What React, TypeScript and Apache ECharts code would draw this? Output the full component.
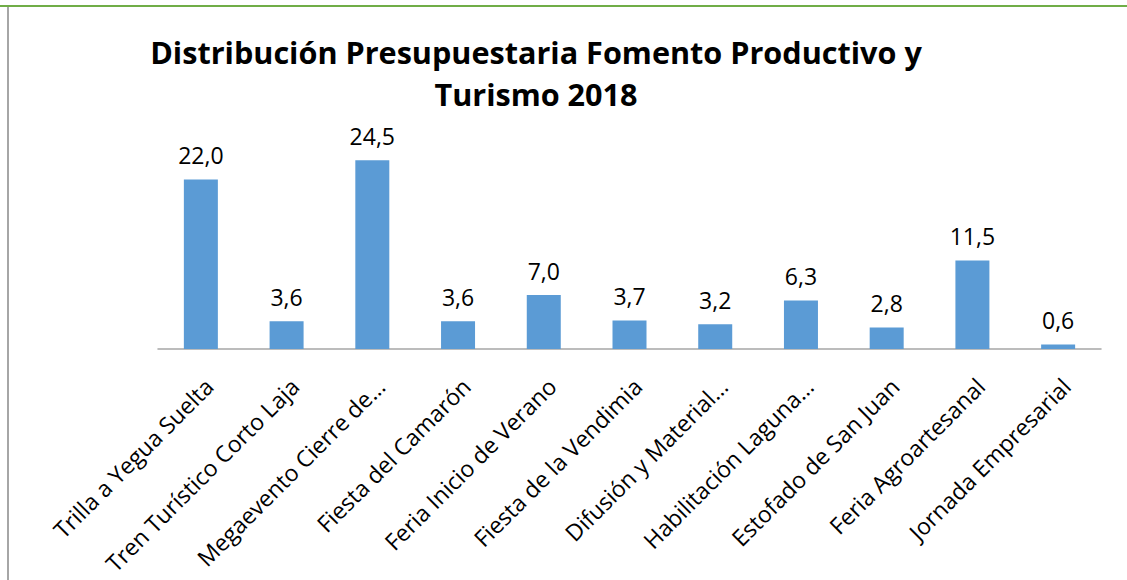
import React, { useEffect, useRef } from "react";
import * as echarts from "echarts";

const categories = [
  "Trilla a Yegua Suelta",
  "Tren Turístico Corto Laja",
  "Megaevento Cierre de…",
  "Fiesta del Camarón",
  "Feria Inicio de Verano",
  "Fiesta de la Vendimia",
  "Difusión y Material…",
  "Habilitación Laguna…",
  "Estofado de San Juan",
  "Feria Agroartesanal",
  "Jornada Empresarial",
];
const values = [22.0, 3.6, 24.5, 3.6, 7.0, 3.7, 3.2, 6.3, 2.8, 11.5, 0.6];
const titleText = "Distribución Presupuestaria Fomento Productivo y\nTurismo 2018";

const FONT = "'Open Sans', 'Noto Sans', sans-serif";

export default function App() {
  const ref = useRef<HTMLDivElement>(null);
  useEffect(() => {
    if (!ref.current) return;
    const chart = echarts.init(ref.current, null, { renderer: "svg" });
    chart.setOption({
      animation: false,
      backgroundColor: "#ffffff",
      title: {
        text: titleText,
        left: 531,
        top: 26,
        textAlign: "center",
        textStyle: {
          fontFamily: FONT,
          fontWeight: "bold",
          fontSize: 30.6,
          lineHeight: 42,
          color: "#000000",
        },
      },
      graphic: [
        { type: "rect", shape: { x: 0, y: 5, width: 1127, height: 2 }, style: { fill: "#70ad47" } },
        { type: "rect", shape: { x: 7, y: 7, width: 2, height: 573 }, style: { fill: "#a6a6a6" } },
      ],
      grid: {
        left: 158,
        right: 26,
        top: 118,
        bottom: 231,
        containLabel: false,
        outerBoundsMode: "none",
      },
      xAxis: {
        type: "category",
        data: categories,
        axisLine: { lineStyle: { color: "#a6a6a6", width: 1.5 } },
        axisTick: { show: false },
        axisLabel: {
          interval: 0,
          rotate: 45,
          margin: 25,
          verticalAlign: "top",
          fontFamily: FONT,
          fontSize: 23,
          color: "#000000",
        },
      },
      yAxis: {
        type: "value",
        min: 0,
        max: 30,
        show: false,
        splitLine: { show: false },
      },
      series: [
        {
          type: "bar",
          data: values,
          barWidth: 34,
          itemStyle: { color: "#5b9bd5" },
          label: {
            show: true,
            position: "top",
            distance: 13,
            fontFamily: FONT,
            fontSize: 23,
            color: "#000000",
            formatter: (p: any) => Number(p.value).toFixed(1).replace(".", ","),
          },
        },
      ],
    });
    return () => chart.dispose();
  }, []);
  return (
    <div
      ref={ref}
      style={{ position: "fixed", left: 0, top: 0, width: 1127, height: 580 }}
    />
  );
}
